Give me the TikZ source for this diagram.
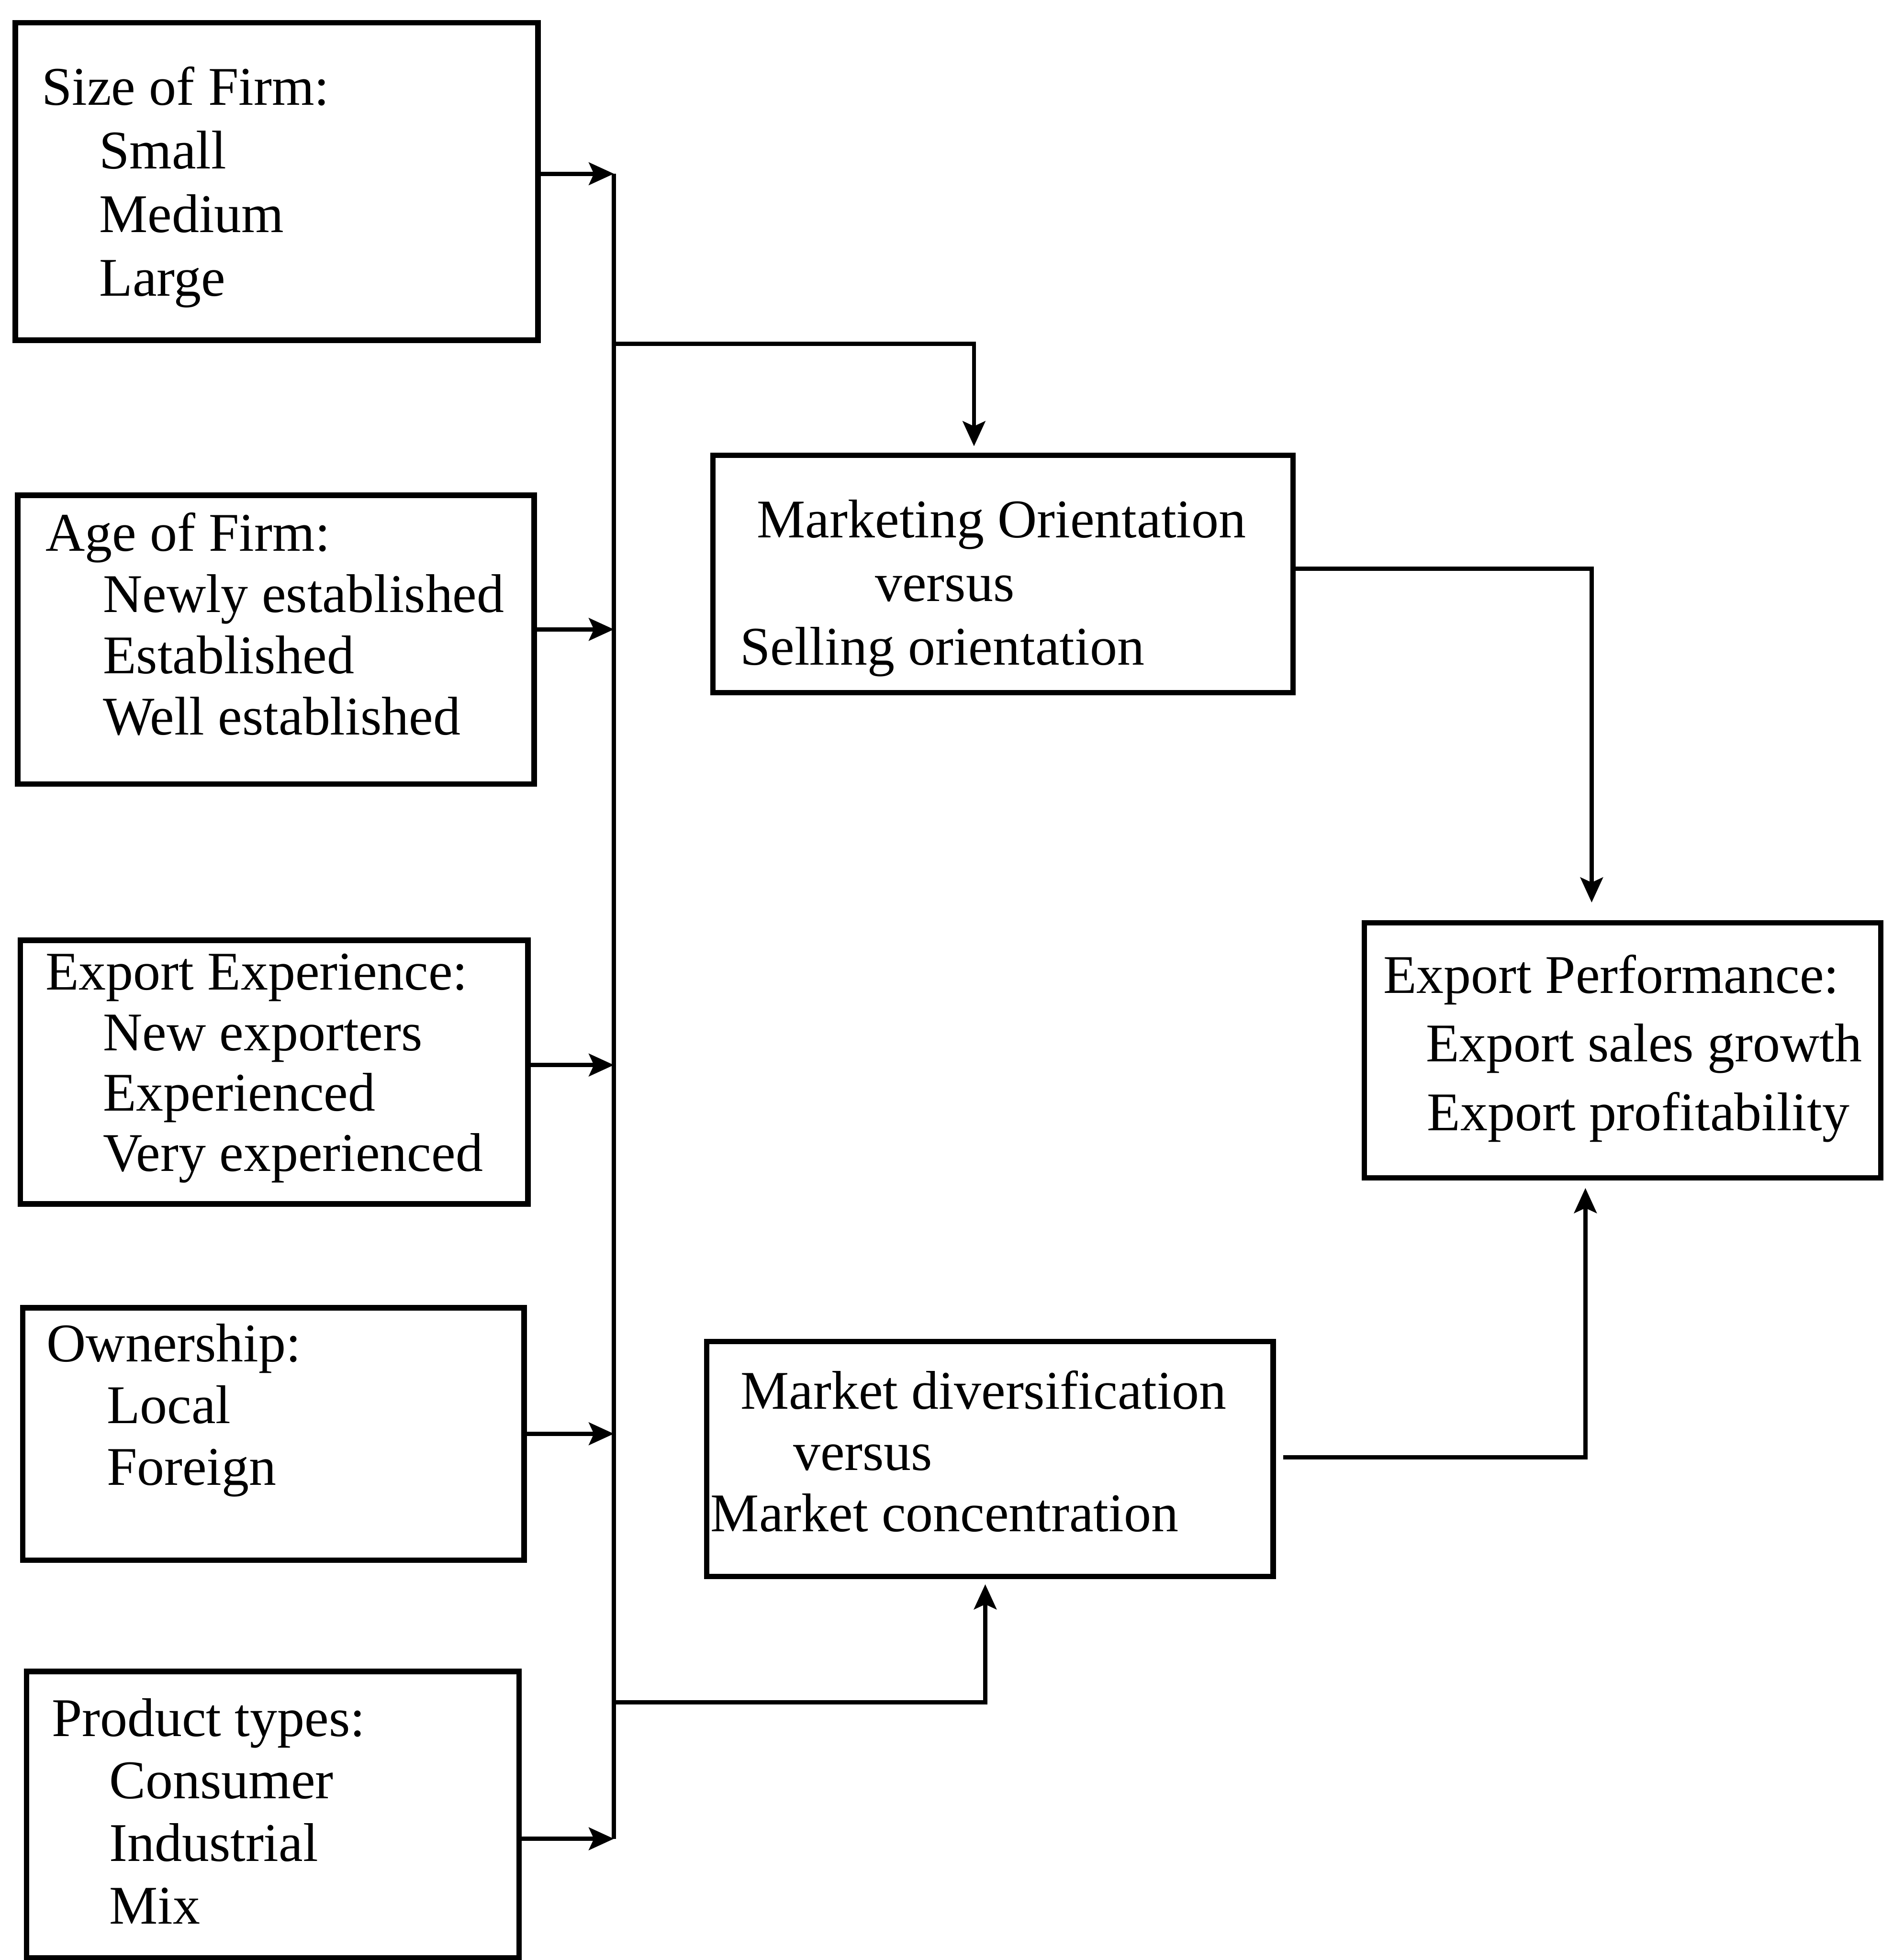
\documentclass[tikz,border=0pt]{standalone}
\usepackage{fontspec}
\setmainfont{Liberation Serif}
\usetikzlibrary{arrows.meta}
\tikzset{
  box/.style={draw, line width=2.2pt, rectangle, inner sep=0pt, anchor=north west},
  txt/.style={anchor=north west, inner sep=0pt, align=left,
    font=\fontsize{21.8pt}{25pt}\selectfont},
  conn/.style={line width=1.7pt},
  arr/.style={line width=1.7pt, -{Stealth[length=10pt,width=9pt,inset=2pt]}},
}
\newcommand{\ind}{\hspace*{23pt}}
\begin{document}
\begin{tikzpicture}[x=0.5pt,y=-0.5pt]
\useasboundingbox (0,0) rectangle (1514,1568);
% boxes
\node[box, minimum width=209pt, minimum height=127pt] (B1) at (10,16) {};
\node[box, minimum width=206.5pt, minimum height=115.5pt] (B2) at (12,394) {};
\node[box, minimum width=203pt, minimum height=105.5pt] (B3) at (14,750) {};
\node[box, minimum width=200.5pt, minimum height=101pt] (B4) at (16,1044) {};
\node[box, minimum width=197pt, minimum height=114.5pt] (B5) at (19,1335) {};
\node[box, minimum width=232pt, minimum height=95pt] (B6) at (568,362) {};
\node[box, minimum width=206.5pt, minimum height=102pt] (B7) at (1089,736) {};
\node[box, minimum width=226.5pt, minimum height=94pt] (B8) at (563,1071) {};
% texts
\node[txt] (T1) at (33,48.5) {\strut Size of Firm:\\[0.5pt]\ind\strut Small\\[0.5pt]\ind\strut Medium\\[0.5pt]\ind\strut Large};
\node[txt] (T2) at (36,405.5) {\strut Age of Firm:\\[-0.5pt]\strut\ind Newly established\\[-0.5pt]\strut\ind Established\\[-0.5pt]\strut\ind Well established};
\node[txt] (T3) at (36,756.5) {\strut Export Experience:\\[-0.8pt]\strut\ind New exporters\\[-0.8pt]\strut\ind Experienced\\[-0.8pt]\strut\ind Very experienced};
\node[txt] (T4) at (37,1054) {\strut Ownership:\\[-0.3pt]\strut\hspace*{24pt}Local\\[-0.3pt]\strut\hspace*{24pt}Foreign};
\node[txt] (T5) at (41,1353.5) {\strut Product types:\\\strut\ind Consumer\\\strut\ind Industrial\\\strut\ind Mix};
\node[txt] (T6) at (591.5,394.6) {\strut\hspace*{6.8pt}Marketing Orientation\\[0.5pt]\strut\hspace*{54pt}versus\\[0.5pt]\strut Selling orientation};
\node[txt] (T7) at (1106,759) {\strut Export Performance:\\[2.5pt]\strut\hspace*{17pt}Export sales growth\\[2.5pt]\strut\hspace*{17.5pt}Export profitability};
\node[txt] (T8) at (568,1091.6) {\strut\hspace*{12pt}Market diversification\\[-0.5pt]\strut\hspace*{33pt}versus\\[-0.5pt]\strut Market concentration};
% bus
\coordinate (bus1) at (491,139);
\coordinate (bus2) at (491,503.5);
\coordinate (bus3) at (491,852);
\coordinate (bus4) at (491,1147);
\coordinate (bus5) at (491,1471);
\coordinate (busA) at (491,275);
\coordinate (busB) at (491,1362);
\draw[conn] (bus1) -- (bus5);
\draw[arr] (B1.east |- bus1) -- (bus1);
\draw[arr] (B2.east |- bus2) -- (bus2);
\draw[arr] (B3.east |- bus3) -- (bus3);
\draw[arr] (B4.east |- bus4) -- (bus4);
\draw[arr] (B5.east |- bus5) -- (bus5);
% branches
\coordinate (kA) at (779,275);
\coordinate (kB) at (788,1362);
\coordinate (kC) at (1273,455);
\coordinate (kD) at (1268,1166);
\draw[arr, shorten >=2.5pt] (busA) -- (kA) -- (kA |- B6.north);
\draw[arr, shorten >=2pt] (busB) -- (kB) -- (kB |- B8.south);
\draw[arr, shorten >=7pt] (B6.east |- kC) -- (kC) -- (kC |- B7.north);
\draw[arr, shorten >=3pt, shorten <=3pt] (B8.east |- kD) -- (kD) -- (kD |- B7.south);
\end{tikzpicture}
\end{document}
